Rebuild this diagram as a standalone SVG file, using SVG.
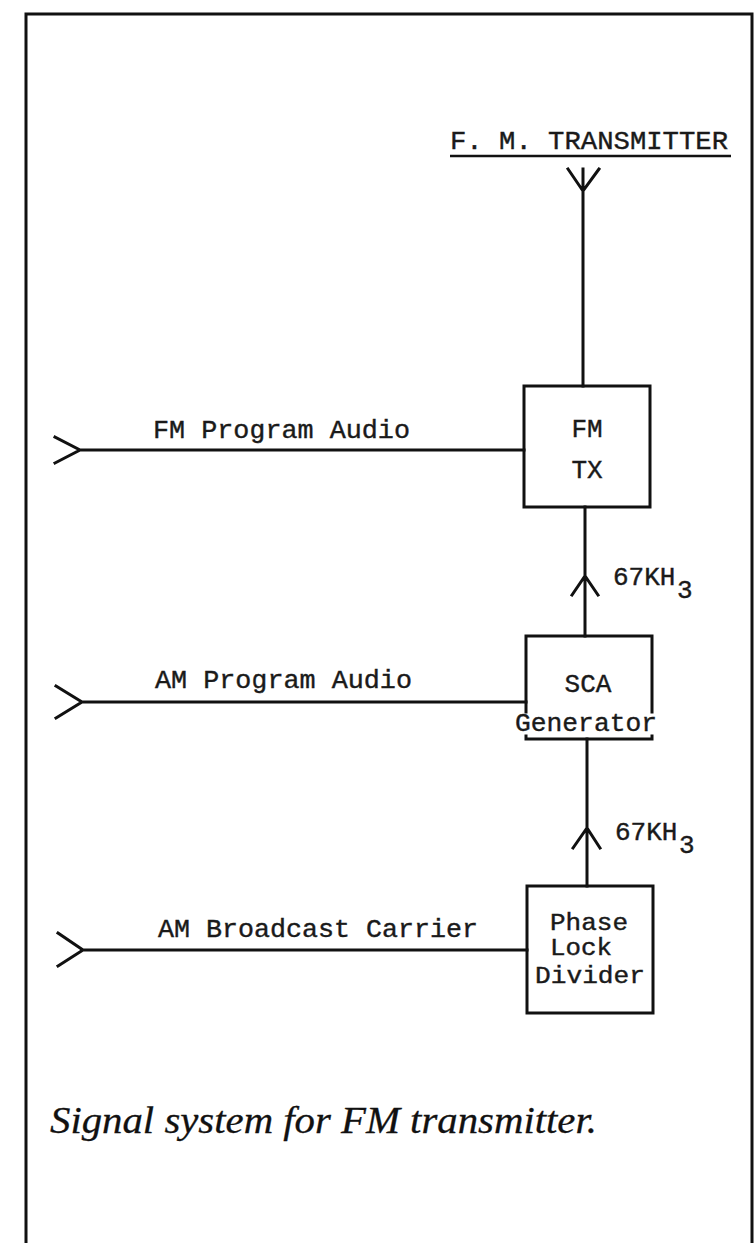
<svg xmlns="http://www.w3.org/2000/svg" width="756" height="1243" viewBox="0 0 756 1243">
<style>
.ln{stroke:#111;stroke-width:3;fill:none;stroke-linecap:square;stroke-linejoin:miter}
.bx{stroke:#111;stroke-width:3;fill:none}
.t{font-family:"Liberation Mono","Courier New",monospace;font-size:26px;fill:#1a1a1a;stroke:#1a1a1a;stroke-width:0.4}
.s{font-size:23px}
.cap{font-family:"Liberation Serif","Times New Roman",serif;font-style:italic;font-size:38px;fill:#111;stroke:#111;stroke-width:0.3}
</style>
<rect width="756" height="1243" fill="#fff"/>
<g id="frame">
<path class="ln" d="M26,1243 V14 H752 V1243"/>
</g>
<g id="title">
<text class="t" x="450" y="149" textLength="278" lengthAdjust="spacingAndGlyphs">F. M. TRANSMITTER</text>
<line x1="450" y1="156" x2="731" y2="156" stroke="#111" stroke-width="2.5"/>
</g>
<g id="antenna">
<path class="ln" d="M568,169 L583,191 L599,169 M583,169 V386"/>
</g>
<g id="fmtx">
<rect class="bx" x="524" y="386" width="126" height="121"/>
<text class="t" x="587" y="437" text-anchor="middle">FM</text>
<text class="t" x="587" y="478" text-anchor="middle">TX</text>
</g>
<g id="sca">
<path class="ln" d="M526,712 V636 H652 V712 M526,736 V739 H652 V736"/>
<text class="t" x="588" y="692" text-anchor="middle">SCA</text>
<text class="t" x="586" y="731" text-anchor="middle" textLength="142" lengthAdjust="spacingAndGlyphs">Generator</text>
</g>
<g id="pld">
<rect class="bx" x="527" y="886" width="126" height="127"/>
<text class="t s" x="550" y="930" textLength="78" lengthAdjust="spacingAndGlyphs">Phase</text>
<text class="t s" x="550" y="955" textLength="62" lengthAdjust="spacingAndGlyphs">Lock</text>
<text class="t s" x="590" y="983" text-anchor="middle" textLength="110" lengthAdjust="spacingAndGlyphs">Divider</text>
</g>
<g id="connectors">
<path class="ln" d="M55,437 L80,450 L55,463 M80,450 H524"/>
<path class="ln" d="M56,686 L82,702 L56,718 M82,702 H526"/>
<path class="ln" d="M58,933 L83,950 L58,966 M83,950 H527"/>
<path class="ln" d="M585,507 V636 M572,595 L585,576 L598,595"/>
<path class="ln" d="M587,739 V886 M573,848 L587,828 L600,848"/>
</g>
<g id="labels">
<text class="t" x="153" y="438" textLength="257" lengthAdjust="spacingAndGlyphs">FM Program Audio</text>
<text class="t" x="155" y="688" textLength="257" lengthAdjust="spacingAndGlyphs">AM Program Audio</text>
<text class="t" x="158" y="937" textLength="320" lengthAdjust="spacingAndGlyphs">AM Broadcast Carrier</text>
<text class="t" x="613" y="585">67KH<tspan x="677" y="598">3</tspan></text>
<text class="t" x="615" y="840">67KH<tspan x="679" y="853">3</tspan></text>
</g>
<g id="caption">
<text class="cap" x="50" y="1133" textLength="547" lengthAdjust="spacingAndGlyphs">Signal system for FM transmitter.</text>
</g>
</svg>
